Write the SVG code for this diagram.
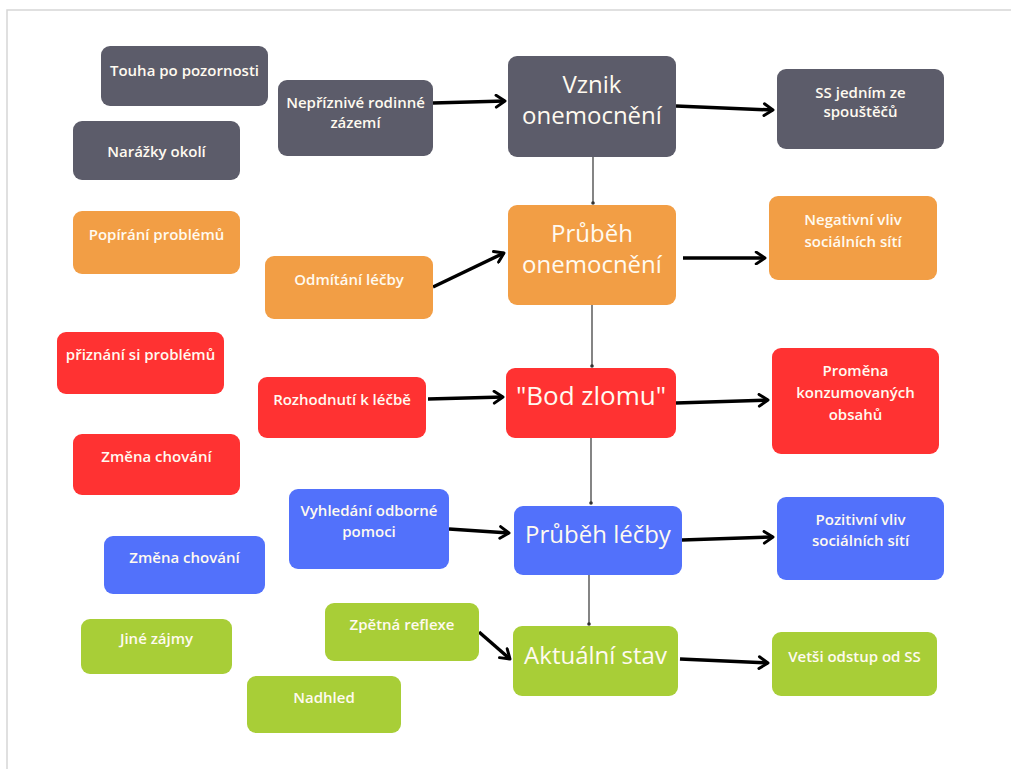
<svg xmlns="http://www.w3.org/2000/svg" width="1011" height="769" viewBox="0 0 1011 769">
<style>
.n{rx:9;ry:9}
.g{fill:#5c5c6a}.o{fill:#f29e45}.r{fill:#ff3232}.b{fill:#5271fb}.l{fill:#a8ce37}
text{font-family:"Open Sans","Liberation Sans",sans-serif;fill:#fffaf0;text-anchor:middle;font-weight:500}
.s{font-size:15px;font-weight:600}
.big{font-size:24px}
.arr{stroke:#000;stroke-width:3.5;fill:none;marker-end:url(#ah)}
.vl{stroke:#333;stroke-width:1.2;fill:none;marker-end:url(#dot)}
</style>
<defs>
<marker id="ah" viewBox="0 0 10 10" refX="8" refY="5" markerWidth="4.2" markerHeight="4.2" orient="auto" markerUnits="strokeWidth">
<path d="M2,1 L8,5 L2,9" fill="none" stroke="#000" stroke-width="2" stroke-linecap="round" stroke-linejoin="round"/>
</marker>
<marker id="dot" viewBox="0 0 4 4" refX="2" refY="2" markerWidth="3" markerHeight="3" markerUnits="strokeWidth">
<circle cx="2" cy="2" r="2" fill="#333"/>
</marker>
</defs>
<rect x="0" y="0" width="1011" height="769" fill="#fff"/>
<path d="M7,769 V10 H1011" fill="none" stroke="#d6d6d6" stroke-width="1.5"/>

<g id="connectors">
<path class="arr" d="M433,103 L505,101"/>
<path class="arr" d="M676,106 L773,110"/>
<path class="vl" d="M593,157 V203"/>
<path class="arr" d="M433,287 L504,253"/>
<path class="arr" d="M683,258 L765,258"/>
<path class="vl" d="M592,305 V366"/>
<path class="arr" d="M428,399 L503,397"/>
<path class="arr" d="M676,403 L768,400"/>
<path class="vl" d="M591,438 V503"/>
<path class="arr" d="M449,529 L509,533"/>
<path class="arr" d="M682,540 L773,537"/>
<path class="vl" d="M589,575 V624"/>
<path class="arr" d="M479,632 L510,659"/>
<path class="arr" d="M680,659 L768,663"/>
</g>

<g id="n-touha"><rect class="n g" x="101" y="46" width="167" height="60"/><text class="s" x="184.5" y="76">Touha po pozornosti</text></g>
<g id="n-narazky"><rect class="n g" x="73" y="121" width="167" height="59"/><text class="s" x="156.5" y="157">Narážky okolí</text></g>
<g id="n-neprizn"><rect class="n g" x="278" y="80" width="155" height="76"/><text class="s" x="355.5" y="108">Nepříznivé rodinné</text><text class="s" x="355.5" y="128">zázemí</text></g>
<g id="n-vznik"><rect class="n g" x="508" y="56" width="168" height="101"/><text class="big" x="592" y="93">Vznik</text><text class="big" x="592" y="124">onemocnění</text></g>
<g id="n-ss"><rect class="n g" x="777" y="69" width="167" height="80"/><text class="s" x="860.5" y="98">SS jedním ze</text><text class="s" x="860.5" y="117">spouštěčů</text></g>

<g id="n-popirani"><rect class="n o" x="73" y="211" width="167" height="63"/><text class="s" x="156.5" y="240">Popírání problémů</text></g>
<g id="n-odmitani"><rect class="n o" x="265" y="256" width="168" height="63"/><text class="s" x="349" y="285">Odmítání léčby</text></g>
<g id="n-prubeh"><rect class="n o" x="508" y="205" width="168" height="100"/><text class="big" x="592" y="242">Průběh</text><text class="big" x="592" y="273">onemocnění</text></g>
<g id="n-negativni"><rect class="n o" x="769" y="196" width="168" height="84"/><text class="s" x="853" y="225">Negativní vliv</text><text class="s" x="853" y="247">sociálních sítí</text></g>

<g id="n-priznani"><rect class="n r" x="57" y="332" width="167" height="62"/><text class="s" x="140.5" y="360">přiznání si problémů</text></g>
<g id="n-zmena1"><rect class="n r" x="73" y="434" width="167" height="61"/><text class="s" x="156.5" y="462">Změna chování</text></g>
<g id="n-rozhodnuti"><rect class="n r" x="258" y="377" width="168" height="61"/><text class="s" x="342" y="405">Rozhodnutí k léčbě</text></g>
<g id="n-bod"><rect class="n r" x="506" y="368" width="170" height="70"/><text class="big" x="591" y="405" style="font-size:26px">"Bod zlomu"</text></g>
<g id="n-promena"><rect class="n r" x="772" y="348" width="167" height="106"/><text class="s" x="855.5" y="376">Proměna</text><text class="s" x="855.5" y="398">konzumovaných</text><text class="s" x="855.5" y="420">obsahů</text></g>

<g id="n-vyhledani"><rect class="n b" x="289" y="489" width="160" height="80"/><text class="s" x="369" y="516">Vyhledání odborné</text><text class="s" x="369" y="537">pomoci</text></g>
<g id="n-zmena2"><rect class="n b" x="104" y="536" width="161" height="58"/><text class="s" x="184.5" y="563">Změna chování</text></g>
<g id="n-lecba"><rect class="n b" x="514" y="506" width="168" height="69"/><text class="big" x="598" y="543">Průběh léčby</text></g>
<g id="n-pozitivni"><rect class="n b" x="777" y="497" width="167" height="83"/><text class="s" x="860.5" y="525">Pozitivní vliv</text><text class="s" x="860.5" y="546">sociálních sítí</text></g>

<g id="n-jine"><rect class="n l" x="81" y="619" width="151" height="55"/><text class="s" x="156.5" y="644">Jiné zájmy</text></g>
<g id="n-zpetna"><rect class="n l" x="325" y="603" width="154" height="58"/><text class="s" x="402" y="630">Zpětná reflexe</text></g>
<g id="n-nadhled"><rect class="n l" x="247" y="676" width="154" height="57"/><text class="s" x="324" y="703">Nadhled</text></g>
<g id="n-aktualni"><rect class="n l" x="513" y="626" width="165" height="70"/><text class="big" x="595.5" y="664">Aktuální stav</text></g>
<g id="n-vetsi"><rect class="n l" x="772" y="632" width="165" height="64"/><text class="s" x="854.5" y="662">Vetši odstup od SS</text></g>
</svg>
